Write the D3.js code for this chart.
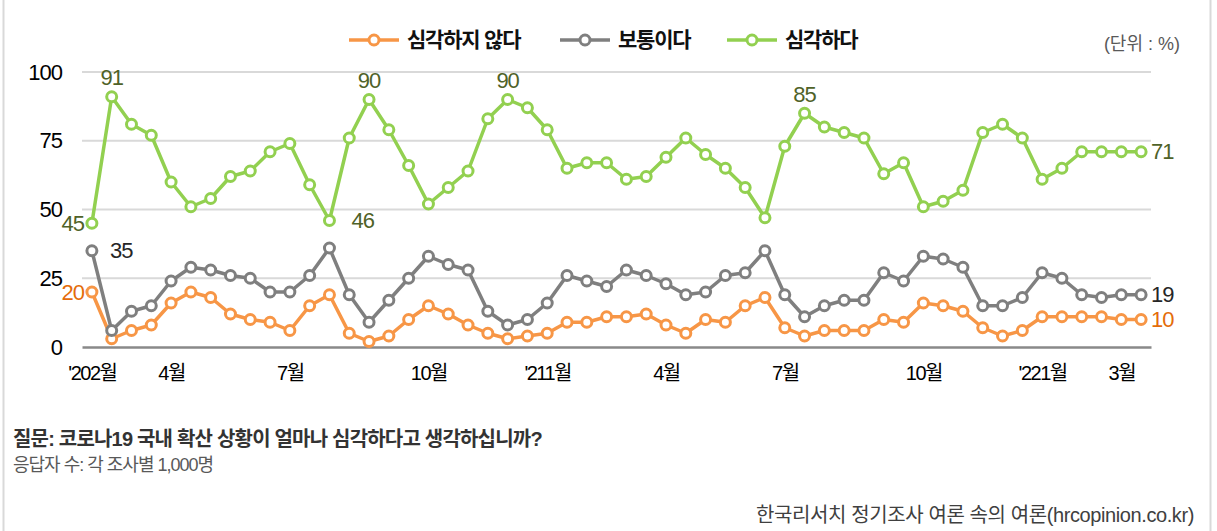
<!DOCTYPE html>
<html>
<head>
<meta charset="utf-8">
<script src="https://cdn.jsdelivr.net/npm/d3@7"></script>
<style>
  body { margin: 0; background: #fff; }
  text { font-family: "Liberation Sans", "Noto Sans CJK KR", sans-serif; }
</style>
</head>
<body>
<div class="chart"></div>
<script>
// svg size
var svgWidth = 1217;
var svgHeight = 531;

// series names
var seriesNames = ["심각하지 않다", "보통이다", "심각하다"];

// survey values (biweekly, '20.2 ~ '22.3)
var notSerious = [20, 3, 6, 8, 16, 20, 18, 12, 10, 9, 6, 15, 19, 5, 2, 4, 10, 15, 12, 8, 5, 3, 4, 5, 9, 9, 11,
    11, 12, 8, 5, 10, 9, 15, 18, 7, 4, 6, 6, 6, 10, 9, 16, 15, 13, 7, 4, 6, 11, 11, 11, 11, 10, 10];
var normal = [35, 6, 13, 15, 24, 29, 28, 26, 25, 20, 20, 26, 36, 19, 9, 17, 25, 33, 30, 28, 13, 8, 10, 16, 26, 24, 22,
    28, 26, 23, 19, 20, 26, 27, 35, 19, 11, 15, 17, 17, 27, 24, 33, 32, 29, 15, 15, 18, 27, 25, 19, 18, 19, 19];
var serious = [45, 91, 81, 77, 60, 51, 54, 62, 64, 71, 74, 59, 46, 76, 90, 79, 66, 52, 58, 64, 83, 90, 87, 79, 65, 67, 67,
    61, 62, 69, 76, 70, 65, 58, 47, 73, 85, 80, 78, 76, 63, 67, 51, 53, 57, 78, 81, 76, 61, 65, 71, 71, 71, 71];

// x tick labels (index -> label)
var tickIndex = [0, 4, 10, 17, 23, 29, 35, 42, 48, 52];
var tickLabels = ["'202월", "4월", "7월", "10월", "'211월", "4월", "7월", "10월", "'221월", "3월"];

var yTicks = [0, 25, 50, 75, 100];

var colors = ["#f79646", "#7f7f7f", "#92d050"];
var labelColors = ["#e46c0a", "#262626", "#4f6228"];

var margin = { top: 72, left: 82, right: 66, bottom: 184 };
var chartWidth = svgWidth - margin.left - margin.right;
var chartHeight = svgHeight - margin.top - margin.bottom;

var svg = d3.select(".chart").append("svg")
    .attr("width", svgWidth)
    .attr("height", svgHeight);

// outer frame
svg.append("line").attr("x1", 3.5).attr("x2", 3.5).attr("y1", 0).attr("y2", svgHeight)
    .attr("stroke", "#d9d9d9").attr("stroke-width", 2);
svg.append("line").attr("x1", 1210.5).attr("x2", 1210.5).attr("y1", 0).attr("y2", svgHeight)
    .attr("stroke", "#d9d9d9").attr("stroke-width", 2);

var chartGroup = svg.append("g")
    .attr("transform", `translate(${margin.left}, ${margin.top})`);

var idx = d3.range(serious.length);

var xScale = d3.scalePoint()
    .domain(idx)
    .range([0, chartWidth])
    .padding(0.5);

var yScale = d3.scaleLinear()
    .domain([0, 100])
    .range([chartHeight, 0]);

// gridlines
chartGroup.append("g")
    .selectAll("line")
    .data(yTicks.filter(d => d > 0))
    .enter()
    .append("line")
    .attr("x1", 0)
    .attr("x2", chartWidth)
    .attr("y1", d => yScale(d))
    .attr("y2", d => yScale(d))
    .attr("stroke", "#d9d9d9")
    .attr("stroke-width", 2);

// y axis labels
var leftAxis = d3.axisLeft(yScale).tickValues(yTicks).tickSize(0).tickPadding(20);
var yAxis = chartGroup.append("g").call(leftAxis);
yAxis.select(".domain").remove();
yAxis.selectAll("text")
    .attr("font-size", "22px")
    .attr("fill", "#000")
    .attr("letter-spacing", "-1px");

// x axis
var bottomAxis = d3.axisBottom(xScale)
    .tickValues(tickIndex)
    .tickFormat((d, i) => tickLabels[i])
    .tickSize(0)
    .tickPadding(19);
var xAxis = chartGroup.append("g")
    .attr("transform", `translate(0, ${chartHeight})`)
    .call(bottomAxis);
xAxis.select(".domain")
    .attr("stroke", "#898989")
    .attr("stroke-width", 2.5);
xAxis.selectAll("text")
    .attr("font-size", "20px")
    .attr("fill", "#000")
    .attr("letter-spacing", "-1.5px");

// lines + markers
var allSeries = [notSerious, normal, serious];
var line = d3.line()
    .x((d, i) => xScale(i))
    .y(d => yScale(d));

allSeries.forEach(function(values, s) {
    chartGroup.append("path")
        .datum(values)
        .attr("d", line)
        .attr("fill", "none")
        .attr("stroke", colors[s])
        .attr("stroke-width", 3.5)
        .attr("stroke-linejoin", "round");

    chartGroup.append("g")
        .selectAll("circle")
        .data(values)
        .enter()
        .append("circle")
        .attr("cx", (d, i) => xScale(i))
        .attr("cy", d => yScale(d))
        .attr("r", 5)
        .attr("fill", "#fff")
        .attr("stroke", colors[s])
        .attr("stroke-width", 3);
});

// data labels: [series, index, position]
var dataLabels = [
    [2, 0, "left"], [2, 1, "top"], [2, 12, "right"], [2, 14, "top"], [2, 21, "top"], [2, 36, "top"], [2, 53, "right"],
    [1, 0, "right"], [1, 53, "right"],
    [0, 0, "left"], [0, 53, "right"]
];
dataLabels.forEach(function(l) {
    var s = l[0], i = l[1], pos = l[2];
    var v = allSeries[s][i];
    var x = xScale(i), y = yScale(v);
    var anchor = "middle";
    if (pos === "top") { y -= 19; }
    if (pos === "left") { x -= 8; anchor = "end"; }
    if (pos === "right") { x += 10; anchor = "start"; }
    if (s === 1 && i === 0) { x += 8; }
    if (s === 2 && i === 12) { x += 12; }
    chartGroup.append("text")
        .attr("x", x)
        .attr("y", y)
        .attr("dy", "0.35em")
        .attr("text-anchor", anchor)
        .attr("font-size", "22px")
        .attr("letter-spacing", "-1px")
        .attr("fill", labelColors[s])
        .text(v);
});

// legend
var legendX = [349, 560, 727];
var legend = svg.append("g").attr("transform", "translate(0, 40)");
seriesNames.forEach(function(name, s) {
    var g = legend.append("g").attr("transform", `translate(${legendX[s]}, 0)`);
    g.append("line").attr("x1", 0).attr("x2", 50).attr("y1", 0).attr("y2", 0)
        .attr("stroke", colors[s]).attr("stroke-width", 3.5);
    g.append("circle").attr("cx", 25).attr("cy", 0).attr("r", 5)
        .attr("fill", "#fff").attr("stroke", colors[s]).attr("stroke-width", 3);
    g.append("text").attr("x", 58).attr("y", 0).attr("dy", "0.35em")
        .attr("font-size", "21px")
        .attr("font-weight", "bold")
        .attr("letter-spacing", "-1.2px")
        .attr("fill", "#111")
        .text(name);
});

// unit
svg.append("text")
    .attr("x", 1180).attr("y", 50)
    .attr("text-anchor", "end")
    .attr("font-size", "18px")
    .attr("fill", "#595959")
    .text("(단위 : %)");

// notes
svg.append("text")
    .attr("x", 13).attr("y", 446)
    .attr("font-size", "20px")
    .attr("font-weight", "bold")
    .attr("letter-spacing", "-0.8px")
    .attr("fill", "#333")
    .text("질문: 코로나19 국내 확산 상황이 얼마나 심각하다고 생각하십니까?");
svg.append("text")
    .attr("x", 13).attr("y", 471)
    .attr("font-size", "18px")
    .attr("letter-spacing", "-1px")
    .attr("fill", "#595959")
    .text("응답자 수: 각 조사별 1,000명");
svg.append("text")
    .attr("x", 1194).attr("y", 522)
    .attr("text-anchor", "end")
    .attr("font-size", "20px")
    .attr("letter-spacing", "-0.4px")
    .attr("fill", "#404040")
    .text("한국리서치 정기조사 여론 속의 여론(hrcopinion.co.kr)");
</script>
</body>
</html>
